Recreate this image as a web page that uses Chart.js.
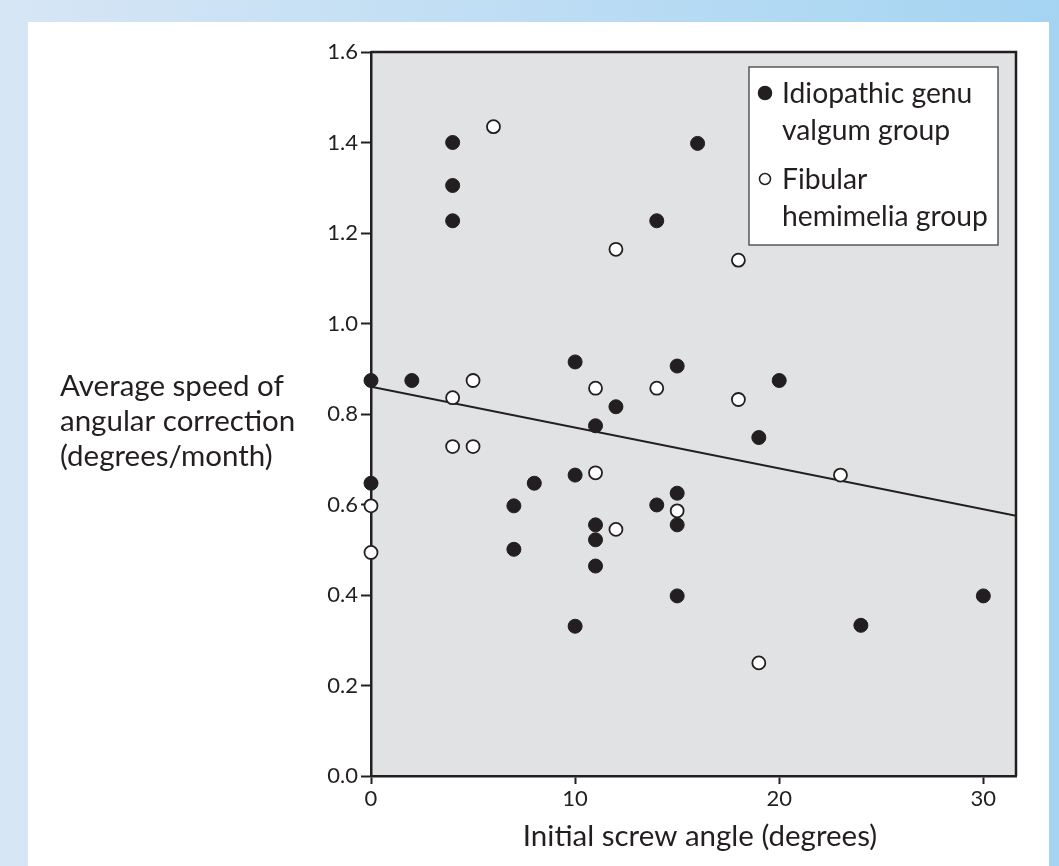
<!DOCTYPE html>
<html>
<head>
<meta charset="utf-8">
<title>Screw angle vs speed of correction</title>
<script src="https://cdn.jsdelivr.net/npm/chart.js@4.4.1/dist/chart.umd.min.js"></script>
<style>
    html, body { margin: 0; padding: 0; }
    body {
        width: 1059px;
        height: 866px;
        position: relative;
        overflow: hidden;
        background: linear-gradient(to right, #d7e6f5, #a4d4f2);
    }
    .panel { position: absolute; left: 28px; top: 22px; width: 1021px; height: 844px; background: #fff; }
    .chart-box { position: absolute; left: 0; top: 0; width: 1059px; height: 866px; }
</style>
</head>
<body>
<div class="panel"></div>
<div class="chart-box"><canvas id="scatterChart"></canvas></div>
<script>
// values
const idiopathicX = [4, 4, 4, 16, 14, 0, 2, 0, 10, 15, 12, 11, 20, 19, 7, 8, 10, 7, 11, 11, 11, 10, 14, 15, 15, 15, 24, 30];
const idiopathicY = [1.40, 1.305, 1.227, 1.398, 1.227, 0.874, 0.874, 0.647, 0.915, 0.906, 0.816, 0.774, 0.874, 0.748, 0.597, 0.647, 0.665, 0.501, 0.555, 0.522, 0.464, 0.331, 0.599, 0.625, 0.555, 0.398, 0.333, 0.398];

const fibularX = [6, 12, 18, 5, 4, 4, 5, 11, 14, 18, 11, 12, 15, 23, 19, 0, 0];
const fibularY = [1.435, 1.164, 1.14, 0.874, 0.836, 0.728, 0.728, 0.857, 0.857, 0.832, 0.670, 0.545, 0.586, 0.665, 0.250, 0.597, 0.494];

// fitted regression line (end points)
const fitX = [0, 31.6];
const fitY = [0.86, 0.575];

const xTicks = [0, 10, 20, 30];
const yTicks = [0, 0.2, 0.4, 0.6, 0.8, 1.0, 1.2, 1.4, 1.6];

const legendLabels = [['Idiopathic genu', 'valgum group'], ['Fibular', 'hemimelia group']];
const xTitle = 'Initial screw angle (degrees)';
const yTitle = ['Average speed of', 'angular correction', '(degrees/month)'];

const ink = '#231f20';
const fontFamily = 'Lato, "Open Sans", sans-serif';

function toPoints(xs, ys) {
    return xs.map((x, i) => ({ x: x, y: ys[i] }));
}

// grey plot area, top/right frame, titles and boxed legend
const figurePlugin = {
    id: 'figure',
    beforeDraw(chart) {
        const { ctx, chartArea: a } = chart;
        ctx.save();
        ctx.fillStyle = '#e1e2e4';
        ctx.fillRect(a.left, a.top, a.width, a.height);
        ctx.restore();
    },
    beforeDatasetsDraw(chart) {
        const { ctx, chartArea: a } = chart;
        ctx.save();
        ctx.strokeStyle = ink;
        ctx.lineWidth = 2.5;
        ctx.beginPath();
        ctx.moveTo(a.left, a.top);
        ctx.lineTo(a.right, a.top);
        ctx.lineTo(a.right, a.bottom);
        ctx.stroke();
        ctx.restore();
    },
    afterDraw(chart) {
        const ctx = chart.ctx;
        ctx.save();
        ctx.fillStyle = ink;
        ctx.font = '29.5px ' + fontFamily;
        ctx.textBaseline = 'alphabetic';

        // y title, horizontal, left of the axis
        ctx.textAlign = 'left';
        yTitle.forEach((line, i) => ctx.fillText(line, 60, 396 + i * 35));

        // x title
        ctx.textAlign = 'center';
        ctx.fillText(xTitle, 700, 846);

        // legend box
        ctx.fillStyle = '#fff';
        ctx.fillRect(749, 67, 249, 178);
        ctx.strokeStyle = '#414042';
        ctx.lineWidth = 1.3;
        ctx.strokeRect(749, 67, 249, 178);

        const sets = chart.data.datasets;
        const rows = [103, 189];
        ctx.font = '28.3px ' + fontFamily;
        ctx.textAlign = 'left';
        legendLabels.forEach((lines, i) => {
            const ds = sets[i];
            ctx.beginPath();
            ctx.arc(765, rows[i] - 10, i === 0 ? 6.5 : 5.5, 0, Math.PI * 2);
            ctx.fillStyle = ds.backgroundColor;
            ctx.fill();
            ctx.lineWidth = 1.5;
            ctx.strokeStyle = ds.borderColor;
            ctx.stroke();
            ctx.fillStyle = ink;
            lines.forEach((t, j) => ctx.fillText(t, 782, rows[i] + j * 37));
        });
        ctx.restore();
    }
};

document.addEventListener('DOMContentLoaded', function() {
    const ctx = document.getElementById('scatterChart').getContext('2d');
    new Chart(ctx, {
        type: 'scatter',
        data: {
            datasets: [
                {
                    label: 'Idiopathic genu valgum group',
                    data: toPoints(idiopathicX, idiopathicY),
                    backgroundColor: ink,
                    borderColor: ink,
                    borderWidth: 1,
                    pointRadius: 7,
                    clip: false,
                    order: 1
                },
                {
                    label: 'Fibular hemimelia group',
                    data: toPoints(fibularX, fibularY),
                    backgroundColor: '#ffffff',
                    borderColor: ink,
                    borderWidth: 1.8,
                    pointRadius: 6.5,
                    clip: false,
                    order: 0
                },
                {
                    type: 'line',
                    label: 'Fit',
                    data: toPoints(fitX, fitY),
                    borderColor: ink,
                    borderWidth: 2,
                    pointRadius: 0,
                    fill: false,
                    order: 2
                }
            ]
        },
        options: {
            responsive: true,
            maintainAspectRatio: false,
            animation: false,
            layout: {
                padding: { left: 0, top: 52, right: 43, bottom: 0 }
            },
            plugins: {
                legend: { display: false },
                tooltip: { enabled: false }
            },
            scales: {
                x: {
                    type: 'linear',
                    min: 0,
                    max: 31.6,
                    afterBuildTicks: scale => { scale.ticks = xTicks.map(v => ({ value: v })); },
                    afterFit: scale => { scale.height = 90; },
                    grid: {
                        drawOnChartArea: false,
                        drawTicks: true,
                        tickLength: 8,
                        tickWidth: 2,
                        tickColor: ink
                    },
                    border: { display: true, color: ink, width: 2.5 },
                    ticks: {
                        color: ink,
                        padding: 2,
                        maxRotation: 0,
                        font: { family: fontFamily, size: 22 }
                    }
                },
                y: {
                    type: 'linear',
                    min: 0,
                    max: 1.6,
                    afterBuildTicks: scale => { scale.ticks = yTicks.map(v => ({ value: v })); },
                    afterFit: scale => { scale.width = 371; },
                    grid: {
                        drawOnChartArea: false,
                        drawTicks: true,
                        tickLength: 10,
                        tickWidth: 2,
                        tickColor: ink
                    },
                    border: { display: true, color: ink, width: 2.5 },
                    ticks: {
                        color: ink,
                        padding: 3,
                        font: { family: fontFamily, size: 22 },
                        callback: v => v.toFixed(1)
                    }
                }
            }
        },
        plugins: [figurePlugin]
    });
});
</script>
</body>
</html>
